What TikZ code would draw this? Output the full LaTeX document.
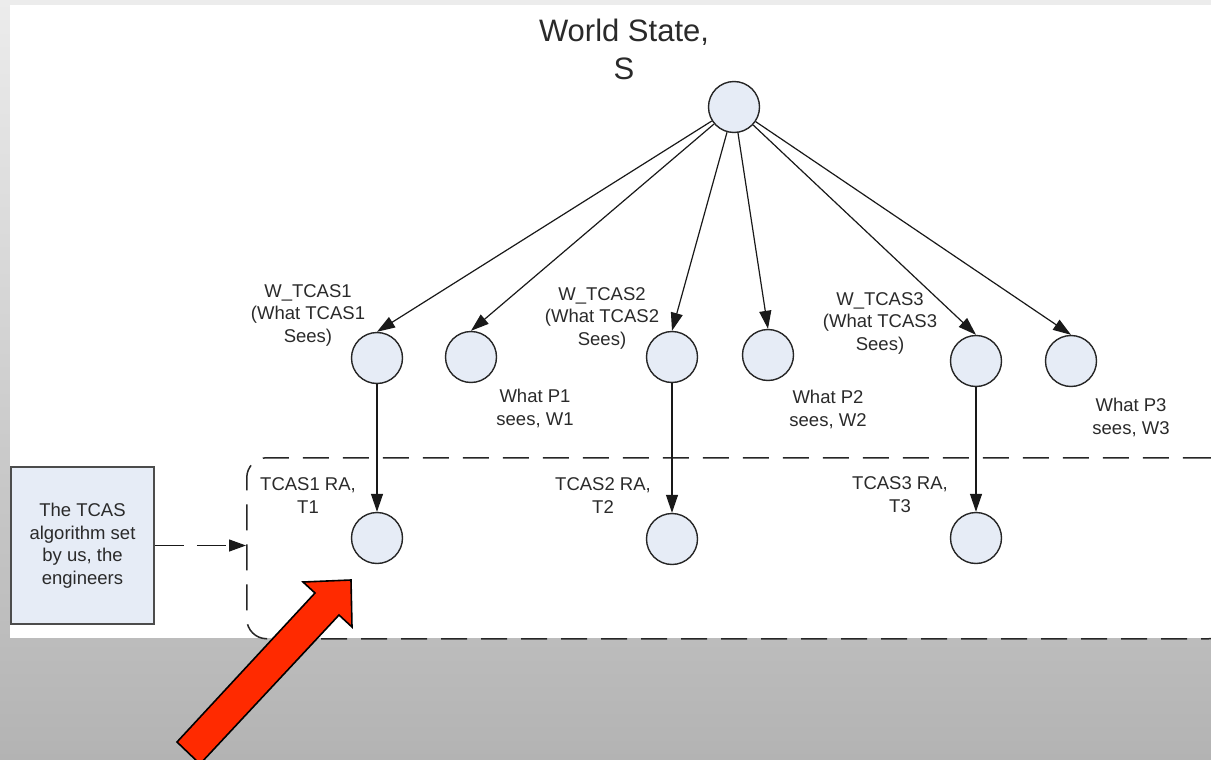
\documentclass[tikz,border=0pt]{standalone}
\usepackage{fontspec}
\setmainfont{Liberation Sans}
\usetikzlibrary{arrows.meta}
\definecolor{nodefill}{HTML}{E6ECF6}
\definecolor{alertred}{HTML}{FF2A00}
\definecolor{inkgray}{HTML}{2A2A2A}
\definecolor{bgtop}{HTML}{ECECEC}
\definecolor{bgbottom}{HTML}{B3B3B3}
\begin{document}
\begin{tikzpicture}[x=1pt,y=-1pt,
  state/.style={circle, draw=black!85, line width=1.4pt, fill=nodefill,
    minimum size=51pt, inner sep=0pt},
  % labels are placed by the baseline of their last line
  lbl/.style={align=center, text=inkgray, inner sep=0pt, anchor=base,
    font=\fontsize{18.5}{22.5}\selectfont},
  flow/.style={draw=black!90, line width=1.2pt,
    -{Triangle[length=18pt,width=12pt]}},
  dashflow/.style={draw=black!90, line width=1.3pt, dash pattern=on 29pt off 13pt,
    -{Triangle[length=17pt,width=12pt]}},
  zonebox/.style={draw=black!85, line width=1.5pt, dash pattern=on 26pt off 14pt,
    rounded corners=20pt, inner sep=0pt},
  algobox/.style={draw=black!70, line width=1.5pt, fill=nodefill, inner sep=0pt,
    minimum width=143pt, minimum height=157pt, align=center, text=inkgray,
    font=\fontsize{18.5}{22.5}\selectfont},
  bigarrow/.style={draw=black, line width=1.6pt, fill=alertred, line join=miter}
]
\useasboundingbox (0,0) rectangle (1211,760);

% backdrop and white sheet
\shade[top color=bgtop, bottom color=bgbottom] (0,0) rectangle (1211,760);
\fill[white] (10,5) rectangle (1211,638);

% the region that holds the engineered algorithm
\begin{scope}
  \clip (0,0) rectangle (1211,760);
  \node[zonebox, minimum width=982pt, minimum height=181pt, anchor=north west]
    (zone) at (246,457) {};
\end{scope}

% states
\node[state] (root) at (734,107) {};
\node[state] (w1) at (377,358) {};
\node[state] (p1) at (471,357) {};
\node[state] (w2) at (672,357) {};
\node[state] (p2) at (768,355) {};
\node[state] (w3) at (976,361) {};
\node[state] (p3) at (1071,361) {};
\node[state] (t1) at (377,538) {};
\node[state] (t2) at (672,539) {};
\node[state] (t3) at (976,538) {};

% algorithm box
\node[algobox] (algo) at (82.5,545.5) {The TCAS\\algorithm set\\by us, the\\engineers};

% labels
\node[lbl, font=\fontsize{31}{39}\selectfont] (lroot) at (624,80) {World State,\\S};
\node[lbl] (lw1) at (308,342) {W\_TCAS1\\(What TCAS1\\Sees)};
\node[lbl] (lw2) at (602,345) {W\_TCAS2\\(What TCAS2\\Sees)};
\node[lbl] (lw3) at (880,350) {W\_TCAS3\\(What TCAS3\\Sees)};
\node[lbl] (lp1) at (535,425) {What P1\\sees, W1};
\node[lbl] (lp2) at (828,426) {What P2\\sees, W2};
\node[lbl] (lp3) at (1131,434) {What P3\\sees, W3};
\node[lbl] (lt1) at (308,513) {TCAS1 RA,\\T1};
\node[lbl] (lt2) at (603,513) {TCAS2 RA,\\T2};
\node[lbl] (lt3) at (900,512) {TCAS3 RA,\\T3};

% connectors
\foreach \n in {w1,p1,w2,p2,w3,p3}
  \draw[flow] (root) -- (\n.north);
\draw[flow] (w1.south) -- (t1.north);
\draw[flow] (w2.south) -- (t2.north);
\draw[flow] (w3.south) -- (t3.north);
\draw[dashflow] (algo.east) -- (algo.east -| zone.west);

% red pointer
\draw[bigarrow] (177,742) -- (315,593) -- (303,582) -- (351,580)
  -- (352,627) -- (339,615) -- (200,764) -- cycle;
\end{tikzpicture}
\end{document}
